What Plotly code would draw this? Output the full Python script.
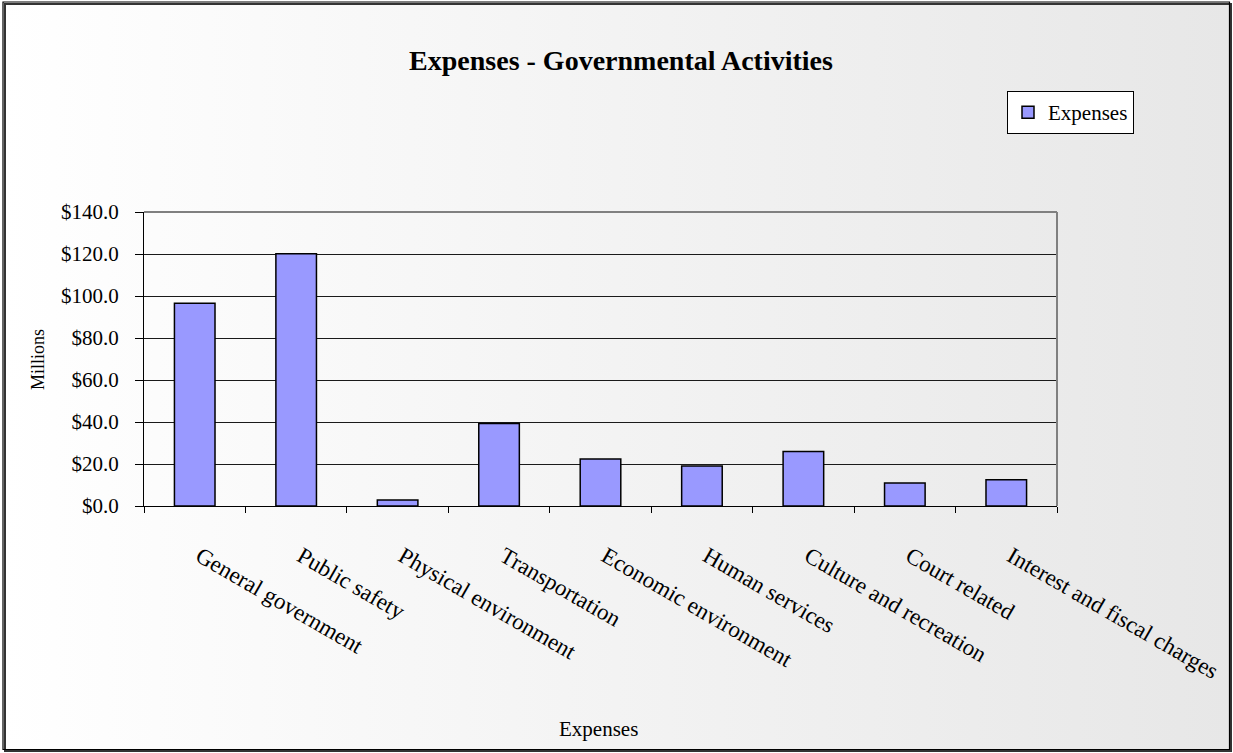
import base64
import plotly.graph_objects as go

categories = ["General government", "Public safety", "Physical environment", "Transportation",
              "Economic environment", "Human services", "Culture and recreation", "Court related",
              "Interest and fiscal charges"]
expenses = [96.6, 120.1, 2.9, 39.3, 22.4, 19.0, 25.9, 10.9, 12.5]
series_name = "Expenses"
y_ticks = [0, 20, 40, 60, 80, 100, 120, 140]
y_tick_labels = ["$0.0", "$20.0", "$40.0", "$60.0", "$80.0", "$100.0", "$120.0", "$140.0"]

W, H = 1233, 753
ML, MR, MT, MB = 144, 176, 212, 247
PW, PH = W - ML - MR, H - MT - MB


def px(x):
    return (x - ML) / PW


def py(y):
    return (H - MB - y) / PH


FONT = "Liberation Serif"

svg = ('<svg xmlns="http://www.w3.org/2000/svg" width="200" height="100" preserveAspectRatio="none">'
       '<defs><linearGradient id="g" x1="0" y1="0" x2="1" y2="0">'
       '<stop offset="0" stop-color="#FFFFFF"/><stop offset="1" stop-color="#E7E7E7"/>'
       '</linearGradient></defs><rect width="200" height="100" fill="url(#g)"/></svg>')
src = "data:image/svg+xml;base64," + base64.b64encode(svg.encode()).decode()

fig = go.Figure()
fig.add_trace(go.Bar(
    x=categories, y=expenses, name=series_name,
    marker=dict(color="#9999FF", line=dict(color="black", width=1.5)),
    showlegend=True,
))

fig.update_layout(
    width=W, height=H,
    margin=dict(l=ML, r=MR, t=MT, b=MB, autoexpand=False),
    paper_bgcolor="white",
    plot_bgcolor="#C0C0C0",
    bargap=0.6,
    font=dict(family=FONT, color="black", size=21),
    title=dict(text="<b>Expenses - Governmental Activities</b>", x=621 / W, xref="container",
               xanchor="center", y=1 - 60 / H, yref="container", yanchor="middle",
               font=dict(family=FONT, size=28, color="black")),
    showlegend=True,
    legend=dict(x=px(1007), y=py(91), xanchor="left", yanchor="top",
                bgcolor="white", bordercolor="black", borderwidth=1,
                font=dict(family=FONT, size=21, color="black"), itemwidth=30),
    images=[dict(source=src, xref="paper", yref="paper", x=px(3), y=py(2),
                 sizex=px(1230) - px(3), sizey=py(2) - py(749), xanchor="left", yanchor="top",
                 sizing="stretch", layer="below")],
)

fig.update_xaxes(
    type="category", tickangle=30, tickson="boundaries", ticks="outside", ticklen=6,
    tickcolor="black", showline=True, linecolor="black", linewidth=1,
    showgrid=False, tickfont=dict(family=FONT, size=23), ticklabelstandoff=27,
    ticklabelshift=5,
)
fig.update_yaxes(
    range=[0, 140], tickmode="array", tickvals=y_ticks, ticktext=y_tick_labels,
    ticks="outside", ticklen=8, tickcolor="black", showline=True, linecolor="black", linewidth=1,
    showgrid=True, gridcolor="#1a1a1a", gridwidth=1, zeroline=False,
    tickfont=dict(family=FONT, size=21), ticklabelstandoff=12,
)

# plot-area top/right border (gray)
fig.add_shape(type="line", xref="x domain", yref="y domain", x0=0, x1=1, y0=1, y1=1,
              line=dict(color="#808080", width=2), layer="above")
fig.add_shape(type="line", xref="x domain", yref="y domain", x0=1, x1=1, y0=0, y1=1,
              line=dict(color="#808080", width=2), layer="above")

# chart border with shadow
fig.add_shape(type="rect", xref="paper", yref="paper", x0=px(5), x1=px(1231), y0=py(4), y1=py(751),
              line=dict(color="#333333", width=2), layer="below")
fig.add_shape(type="rect", xref="paper", yref="paper", x0=px(3), x1=px(1229.5), y0=py(2), y1=py(749.5),
              line=dict(color="black", width=1.2), layer="below")

# axis titles
fig.add_annotation(text="Expenses", xref="paper", yref="paper", x=px(598.5), y=py(729),
                   xanchor="center", yanchor="middle", showarrow=False,
                   font=dict(family=FONT, size=21, color="black"))
fig.add_annotation(text="Millions", xref="paper", yref="paper", x=px(38), y=py(360),
                   xanchor="center", yanchor="middle", showarrow=False, textangle=-90,
                   font=dict(family=FONT, size=18, color="black"))

fig.write_html("out.html")
